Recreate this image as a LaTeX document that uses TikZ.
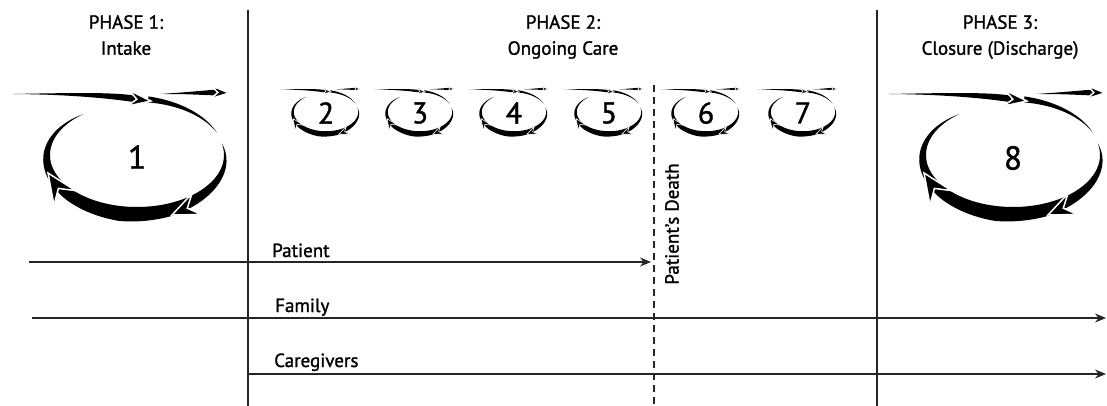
\documentclass[tikz,border=0pt]{standalone}
\usepackage{fontspec}
\setmainfont{PT Sans}[FakeBold=1.3]
\usetikzlibrary{arrows.meta}

% arrowhead: tip (x,y), direction phi (deg, y-down), length, half width, outline width
\newcommand\arrhd[6]{%
  \begin{scope}[shift={(#1,#2)},rotate={-(#3)}]
    \filldraw[fill=black,draw=white,line width=#6] (0,0) -- ({-#4},{-#5}) -- ({-0.62*#4},0) -- ({-#4},{#5}) -- cycle;
  \end{scope}}

% cycle icon: centre (x,y), scale, outline width
\newcommand\cycleicon[4]{%
  \begin{scope}[shift={(#1,#2)},scale=#3]
    % main ring stroke
    \fill plot[domain=-13:232,samples=100,variable=\t] ({(87+wring(\t))*cos(\t)},{(52+wring(\t))*sin(\t)})
      -- plot[domain=232:-13,samples=100,variable=\t] ({87*cos(\t)},{52*sin(\t)}) -- cycle;
    % top right arc
    \fill plot[domain=277:335,samples=40,variable=\t] ({(88+6*(335-\t)/58)*cos(\t)},{(53+6*(335-\t)/58)*sin(\t)})
      -- plot[domain=335:277,samples=40,variable=\t] ({88*cos(\t)},{53*sin(\t)}) -- cycle;
    % incoming stroke
    \fill (-124,-61) .. controls (-50,-62.5) and (-20,-62.5) .. (0,-59) -- (0,-52.5) .. controls (-20,-55.5) and (-60,-60.5) .. (-124,-61) -- cycle;
    % exit stroke
    \fill (23,-61) .. controls (45,-62.5) .. (80,-65.5) -- (80,-59.5) .. controls (45,-61) .. (23,-61) -- cycle;
    % arrowheads
    \arrhd{14}{-54}{7}{23}{8}{#4}
    \arrhd{92}{-62}{2.5}{18}{6.5}{#4}
    \arrhd{35}{60}{156}{27}{11.5}{#4}
    \arrhd{-89}{18}{236}{30}{13}{#4}
  \end{scope}}

\begin{document}
\begin{tikzpicture}[x=1pt,y=-1pt,
  declare function={wring(\t)=(\t<50)?(10*(\t+13)/63):((\t<70)?(10+3*(\t-50)/20):((\t<100)?(13+2*(\t-70)/30):((\t<135)?(15-3*(\t-100)/35):((\t<160)?(12-3*(\t-135)/25):(9*(232-\t)/72)))));},
  txt/.style={font=\fontsize{19}{26}\selectfont, text=black, inner sep=0pt},
  bignum/.style={font=\fontsize{33}{33}\selectfont, inner sep=0pt},
  smallnum/.style={font=\fontsize{30}{30}\selectfont, inner sep=0pt},
  divider/.style={line width=1.3pt, draw=black!85},
  deathline/.style={line width=1.1pt, draw=black!85, dash pattern=on 7pt off 5pt},
  lane/.style={line width=1.4pt, draw=black!85, -{Stealth[length=11pt,width=9pt]}}]
\useasboundingbox (0,0) rectangle (1107,406);
\fill[white] (0,0) rectangle (1107,406);

% phase headers
\node[txt,align=center,anchor=north] (ph1) at (126,15) {PHASE 1:\\Intake};
\node[txt,align=center,anchor=north] (ph2) at (563,15) {PHASE 2:\\Ongoing Care};
\node[txt,align=center,anchor=north] (ph3) at (1000,15) {PHASE 3:\\Closure (Discharge)};

% dividers
\coordinate (d1t) at (248,10); \coordinate (d1b) at (248,406);
\coordinate (d2t) at (877,10); \coordinate (d2b) at (877,406);
\coordinate (dt) at (654,85);  \coordinate (db) at (654,406);
\draw[divider] (d1t) -- (d1b);
\draw[divider] (d2t) -- (d2b);
\draw[deathline] (dt) -- (db);
\node[txt,rotate=90] (death) at (672,224) {Patient's Death};

% cycle icons
\cycleicon{137}{155}{1}{1.5pt}
\cycleicon{1013}{155}{1}{1.5pt}
\foreach \cx in {326,420,514,609,706,803}{\cycleicon{\cx}{112}{0.37}{0.6pt}}

\node[bignum] (n1) at (137,157) {1};
\node[bignum] (n8) at (1013,158) {8};
\node[smallnum] (n2) at (326,113) {2};
\node[smallnum] (n3) at (420,113) {3};
\node[smallnum] (n4) at (514,113) {4};
\node[smallnum] (n5) at (609,113) {5};
\node[smallnum] (n6) at (706,113) {6};
\node[smallnum] (n7) at (803,113) {7};

% lanes
\coordinate (pS) at (29,262);  \coordinate (pE) at (651,262);
\coordinate (fS) at (32,318);  \coordinate (fE) at (1106,318);
\coordinate (cS) at (248,374); \coordinate (cE) at (1106,374);
\draw[lane] (pS) -- (pE);
\draw[lane] (fS) -- (fE);
\draw[lane] (cS) -- (cE);
\node[txt,anchor=base west] (lp) at (272,257) {Patient};
\node[txt,anchor=base west] (lf) at (275,312) {Family};
\node[txt,anchor=base west] (lc) at (274,367) {Caregivers};
\end{tikzpicture}
\end{document}
